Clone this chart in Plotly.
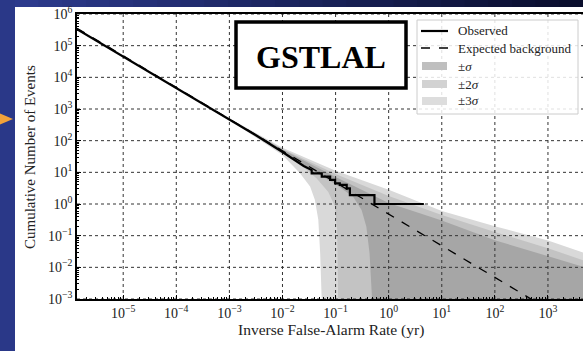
import plotly.graph_objects as go

# ---------------- data ----------------
# Observed: continuous part then step part (IFAR in yr, cumulative N)
obs_cont_ifar = [1.35e-6, 1.0e-3, 3.16e-3, 1.0e-2, 1.58e-2, 2.51e-2, 3.55e-2]
obs_cont_n = [3.3e5, 468, 148, 44, 26, 15.8, 11.8]
obs_step_ifar = [3.55e-2, 5.5e-2, 7.9e-2, 9.8e-2, 0.12, 0.162, 0.186, 0.54, 4.6]
obs_step_n = [9.3, 7.3, 5.8, 4.5, 4.0, 3.1, 1.9, 1.0, 1.0]

# Expected background
exp_ifar = [1.35e-6, 5000]
exp_n = [3.55e5, 9.6e-5]

# Bands (upper edges share x)
band_up_ifar = [6.3e-4, 1e-3, 1e-2, 0.1, 1, 10, 100, 1000, 5000]
up3_n = [776, 501, 60, 11.2, 2.8, 0.60, 0.20, 0.071, 0.028]
up2_n = [776, 490, 55, 8.9, 1.78, 0.45, 0.13, 0.040, 0.016]
up1_n = [776, 479, 52.5, 7.1, 1.07, 0.30, 0.072, 0.023, 0.010]

lo3_ifar = [6.3e-4, 1e-3, 3.16e-3, 1e-2, 0.0214, 0.0331, 0.0407, 0.0473, 0.0513, 0.055, 5000]
lo3_n = [741, 457, 126, 35.5, 9.3, 3.55, 1.35, 0.316, 0.0275, 0.0008, 0.0008]
lo2_ifar = [6.3e-4, 1e-3, 3.16e-3, 1e-2, 0.0251, 0.0437, 0.0724, 0.0977, 0.107, 0.112, 5000]
lo2_n = [741, 468, 141, 41.7, 14.1, 6.5, 2.45, 0.83, 0.15, 0.0008, 0.0008]
lo1_ifar = [6.3e-4, 1e-3, 1e-2, 0.0316, 0.105, 0.214, 0.309, 0.38, 0.437, 0.49, 5000]
lo1_n = [741, 473, 45.7, 13.2, 3.98, 1.70, 0.65, 0.19, 0.0275, 0.0008, 0.0008]

x_ticks = [1e-5, 1e-4, 1e-3, 1e-2, 1e-1, 1e0, 1e1, 1e2, 1e3]
x_tick_labels = ["10<sup>−5</sup>", "10<sup>−4</sup>", "10<sup>−3</sup>", "10<sup>−2</sup>",
                 "10<sup>−1</sup>", "10<sup>0</sup>", "10<sup>1</sup>", "10<sup>2</sup>", "10<sup>3</sup>"]
y_ticks = [1e-3, 1e-2, 1e-1, 1e0, 1e1, 1e2, 1e3, 1e4, 1e5, 1e6]
y_tick_labels = ["10<sup>−3</sup>", "10<sup>−2</sup>", "10<sup>−1</sup>", "10<sup>0</sup>",
                 "10<sup>1</sup>", "10<sup>2</sup>", "10<sup>3</sup>", "10<sup>4</sup>",
                 "10<sup>5</sup>", "10<sup>6</sup>"]

legend_labels = ["Observed", "Expected background", "±<i>σ</i>", "±2<i>σ</i>", "±3<i>σ</i>"]
title_text = "GSTLAL"
x_title = "Inverse False-Alarm Rate (yr)"
y_title = "Cumulative Number of Events"

# ---------------- styles ----------------
FONT = "Liberation Serif"
W, H = 583, 351
PL, PR, PT, PB = 77, 583, 14, 299
band_colors = ["#d9d9d9", "#c3c3c3", "#a6a6a6"]
legend_patch_colors = ["#bfbfbf", "#d2d2d2", "#dddddd"]


def px(x):
    return (x - PL) / (PR - PL)


def py(y):
    return (PB - y) / (PB - PT)


fig = go.Figure()

# bands
for up, lx, ln, col in [(up3_n, lo3_ifar, lo3_n, band_colors[0]),
                        (up2_n, lo2_ifar, lo2_n, band_colors[1]),
                        (up1_n, lo1_ifar, lo1_n, band_colors[2])]:
    xs = list(band_up_ifar) + list(reversed(lx))
    ys = list(up) + list(reversed(ln))
    fig.add_trace(go.Scatter(x=xs, y=ys, fill="toself", fillcolor=col,
                             line=dict(width=0), mode="lines",
                             hoverinfo="skip", showlegend=False))

# grid lines (drawn above the fills, like the reference)
gx, gy = [], []
for t in x_ticks:
    gx += [t, t, None]
    gy += [y_ticks[0], y_ticks[-1], None]
for t in y_ticks:
    gx += [1e-7, 1e5, None]
    gy += [t, t, None]
fig.add_trace(go.Scatter(x=gx, y=gy, mode="lines",
                         line=dict(color="#333333", width=1, dash="dot"),
                         hoverinfo="skip", showlegend=False, connectgaps=False))

# expected background
fig.add_trace(go.Scatter(x=exp_ifar, y=exp_n, mode="lines",
                         line=dict(color="black", width=1.3, dash="dash"),
                         showlegend=False))

# observed: continuous + steps
ox = list(obs_cont_ifar)
oy = list(obs_cont_n)
for i in range(len(obs_step_ifar) - 1):
    ox += [obs_step_ifar[i], obs_step_ifar[i + 1], obs_step_ifar[i + 1]]
    oy += [obs_step_n[i], obs_step_n[i], obs_step_n[i + 1]]
fig.add_trace(go.Scatter(x=ox, y=oy, mode="lines",
                         line=dict(color="black", width=2.2),
                         showlegend=False))

shapes = []
# slide background: white panel on blue
shapes.append(dict(type="rect", xref="paper", yref="paper", layer="below",
                   x0=px(15), x1=px(W + 5), y0=py(H + 5), y1=py(7),
                   fillcolor="white", line=dict(width=0)))
# top strip gradient
n_seg = 24
c0 = (44, 58, 140)
c1 = (10, 14, 45)
for i in range(n_seg):
    f = i / (n_seg - 1)
    c = tuple(int(c0[k] + (c1[k] - c0[k]) * f) for k in range(3))
    shapes.append(dict(type="rect", xref="paper", yref="paper", layer="below",
                       x0=px(15 + (W - 15) * i / n_seg), x1=px(15 + (W - 15) * (i + 1) / n_seg + 1),
                       y0=py(7), y1=py(-2),
                       fillcolor="rgb(%d,%d,%d)" % c, line=dict(width=0)))
# orange arrow
shapes.append(dict(type="path", xref="paper", yref="paper", layer="below",
                   path="M %f,%f L %f,%f L %f,%f Z" % (px(-1), py(113), px(13), py(119), px(-1), py(125)),
                   fillcolor="#f2a23a", line=dict(width=0)))

# GSTLAL box
shapes.append(dict(type="rect", xref="paper", yref="paper", layer="above",
                   x0=px(236), x1=px(406), y0=py(88), y1=py(22),
                   fillcolor="white", line=dict(color="black", width=3.5)))

# legend box
shapes.append(dict(type="rect", xref="paper", yref="paper", layer="above",
                   x0=px(417), x1=px(578), y0=py(114), y1=py(20),
                   fillcolor="rgba(255,255,255,0.85)", line=dict(color="#cccccc", width=1)))
leg_y = [31, 48, 66, 84, 101]
shapes.append(dict(type="line", xref="paper", yref="paper", layer="above",
                   x0=px(421), x1=px(448), y0=py(leg_y[0]), y1=py(leg_y[0]),
                   line=dict(color="black", width=2.2)))
shapes.append(dict(type="line", xref="paper", yref="paper", layer="above",
                   x0=px(421), x1=px(448), y0=py(leg_y[1]), y1=py(leg_y[1]),
                   line=dict(color="black", width=1.3, dash="dash")))
for j, col in enumerate(legend_patch_colors):
    yy = leg_y[2 + j]
    shapes.append(dict(type="rect", xref="paper", yref="paper", layer="above",
                       x0=px(422), x1=px(447), y0=py(yy + 4), y1=py(yy - 4),
                       fillcolor=col, line=dict(width=0)))

annotations = []
for lab, yy in zip(legend_labels, leg_y):
    annotations.append(dict(text=lab, xref="paper", yref="paper", x=px(456), y=py(yy),
                            xanchor="left", yanchor="middle", showarrow=False,
                            font=dict(family=FONT, size=13, color="#222")))
annotations.append(dict(text="<b>%s</b>" % title_text, xref="paper", yref="paper",
                        x=px(321), y=py(57), xanchor="center", yanchor="middle",
                        showarrow=False, font=dict(family=FONT, size=32, color="black")))
annotations.append(dict(text=x_title, xref="paper", yref="paper", x=px(331), y=py(330),
                        xanchor="center", yanchor="middle", showarrow=False,
                        font=dict(family=FONT, size=15.5, color="#222")))
annotations.append(dict(text=y_title, xref="paper", yref="paper", x=px(30), y=py(157),
                        xanchor="center", yanchor="middle", showarrow=False, textangle=-90,
                        font=dict(family=FONT, size=15, color="#222")))

axis_common = dict(type="log", showgrid=False, zeroline=False, showline=True,
                   linecolor="black", linewidth=1.5, ticks="inside", ticklen=4,
                   tickcolor="black",
                   tickfont=dict(family=FONT, size=14, color="#222"),
                   minor=dict(ticks="inside", ticklen=2, tickcolor="black", dtick="D1", showgrid=False))

fig.update_layout(
    width=W, height=H,
    margin=dict(l=PL, r=W - PR, t=PT, b=H - PB, pad=0),
    paper_bgcolor="rgb(42,56,136)",
    plot_bgcolor="white",
    showlegend=False,
    shapes=shapes,
    annotations=annotations,
    xaxis=dict(axis_common, range=[-5.87, 3.66], tickvals=x_ticks, ticktext=x_tick_labels, mirror=True),
    yaxis=dict(axis_common, range=[-3, 6], tickvals=y_ticks, ticktext=y_tick_labels, mirror=False),
)

fig.write_html("out.html")
